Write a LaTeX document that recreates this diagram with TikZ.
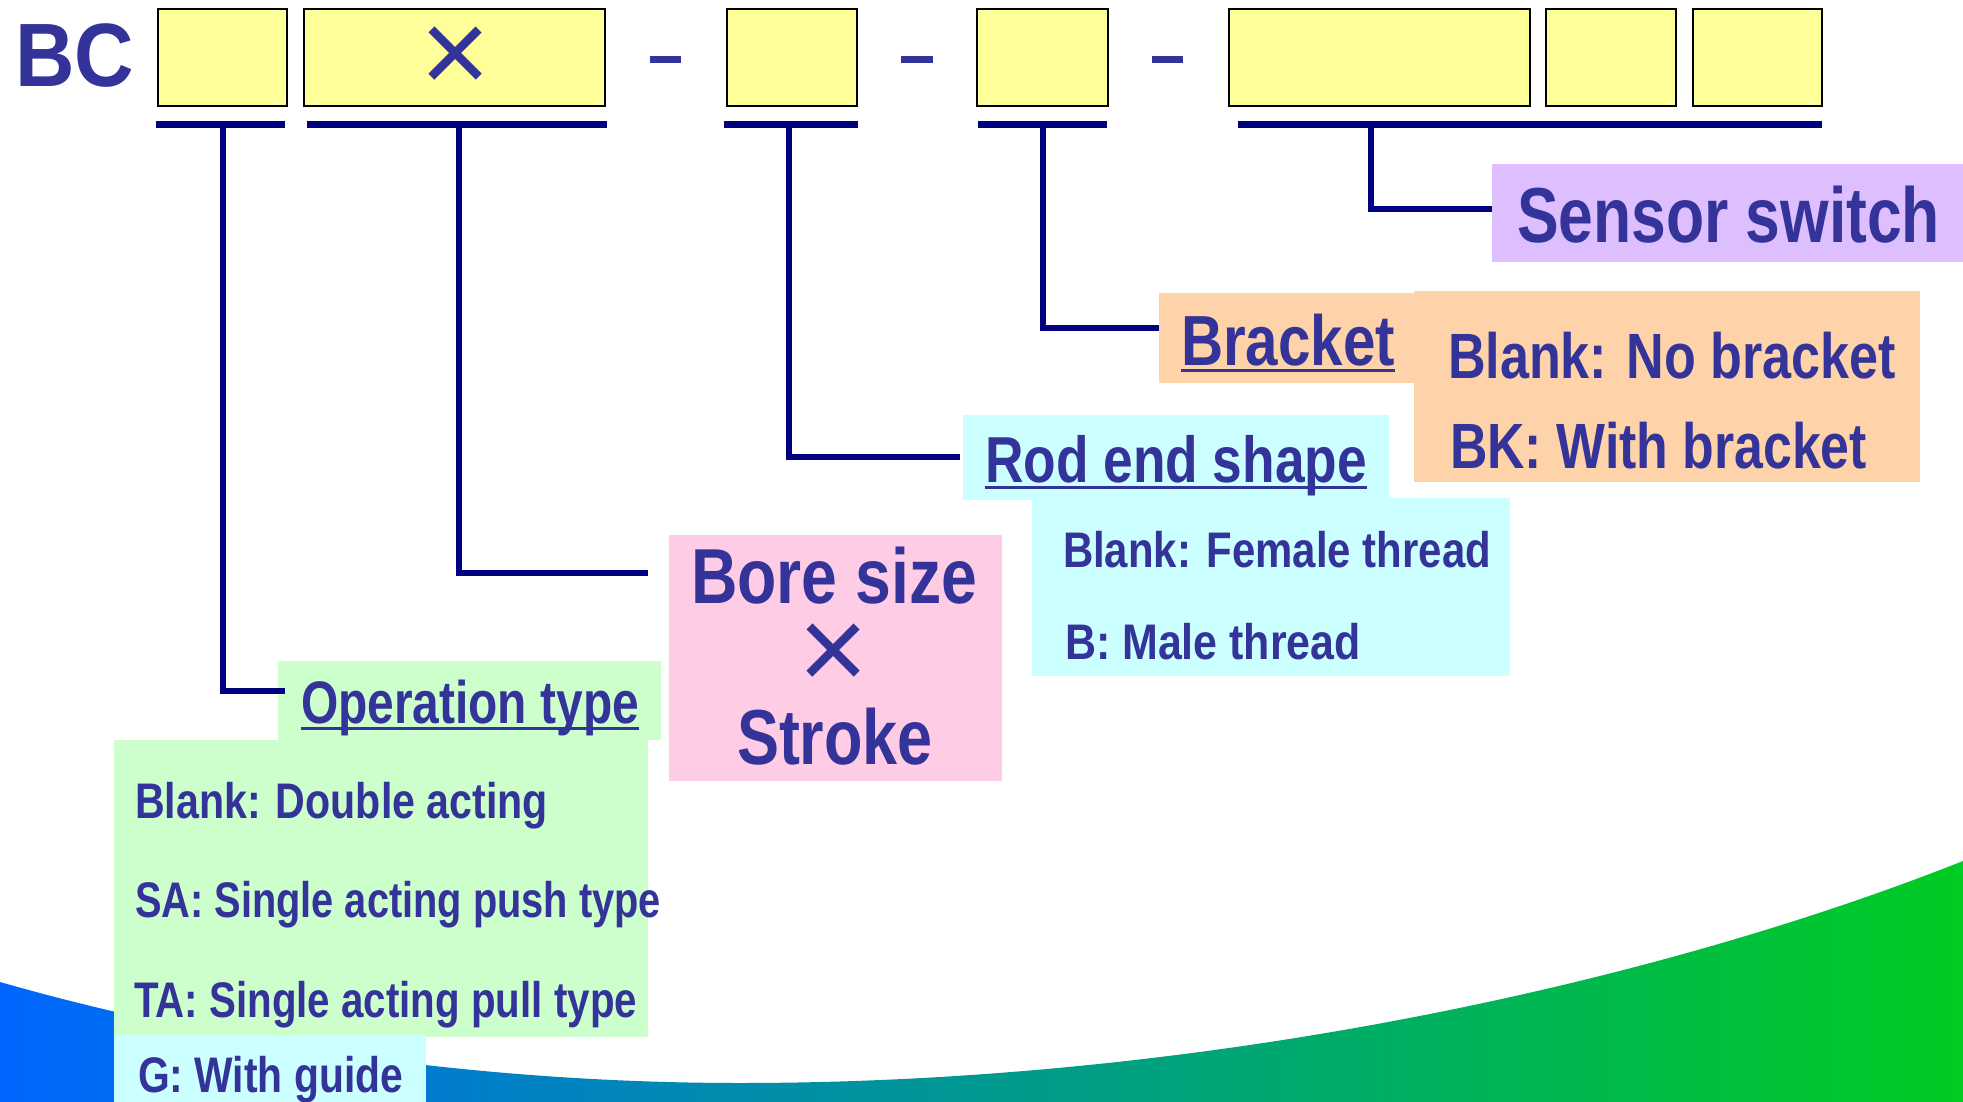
\documentclass[tikz,border=0pt]{standalone}
\usepackage{fontspec}
\usepackage{graphicx}
\setmainfont{Liberation Sans}
\definecolor{ink}{HTML}{333399}
\definecolor{leader}{HTML}{000080}
\definecolor{slot}{HTML}{FFFF99}
\definecolor{cgreen}{HTML}{CCFFCC}
\definecolor{ccyan}{HTML}{CCFFFF}
\definecolor{cpink}{HTML}{FFCCE6}
\definecolor{corange}{HTML}{FFD3A9}
\definecolor{cviolet}{HTML}{DDBEFF}
\definecolor{swL}{HTML}{0066FF}
\definecolor{swR}{HTML}{00CC22}
\newcommand{\ulin}[1]{\setbox0=\hbox{#1}\rlap{\rule[-7pt]{\wd0}{3pt}}\box0}
% \lbl{name}{x0}{x1}{baseline}{size}{text}
\newcommand{\lbl}[6]{\node[txt,anchor=base west] (#1) at (#2,#4) {\resizebox{\dimexpr#3pt-#2pt\relax}{\height}{\fontsize{#5}{#5}\selectfont\bfseries #6}};}
% \bx{name}{x0}{y0}{x1}{y1}{style}
\newcommand{\bx}[6]{\node[#6,anchor=north west,minimum width=\dimexpr#4pt-#2pt\relax,minimum height=\dimexpr#5pt-#3pt\relax] (#1) at (#2,#3) {};}
\tikzset{
  txt/.style={inner sep=0pt,outer sep=0pt,text=ink},
  panel/.style={inner sep=0pt,outer sep=0pt,draw=none,fill=#1},
  slotbox/.style={inner sep=0pt,outer sep=0pt,draw=black,line width=2pt,fill=slot},
  barline/.style={inner sep=0pt,outer sep=0pt,fill=leader},
  dashbar/.style={inner sep=0pt,outer sep=0pt,fill=ink},
  leaderline/.style={draw=leader,line width=6pt,line join=miter}
}
\begin{document}
\begin{tikzpicture}[x=1pt,y=-1pt]
\useasboundingbox (0,0) rectangle (1963,1102);
\fill[white] (0,0) rectangle (1963,1102);
% swoosh
\shade[left color=swL,right color=swR] (0,982) .. controls (220,1045) and (480,1083) .. (740,1083)
  .. controls (1200,1083) and (1650,985) .. (1963,861) -- (1963,1102) -- (0,1102) -- cycle;
% slots
\bx{s1}{158}{9}{287}{106}{slotbox}
\bx{s2}{304}{9}{605}{106}{slotbox}
\bx{s3}{727}{9}{857}{106}{slotbox}
\bx{s4}{977}{9}{1108}{106}{slotbox}
\bx{s5}{1229}{9}{1530}{106}{slotbox}
\bx{s6}{1546}{9}{1676}{106}{slotbox}
\bx{s7}{1693}{9}{1822}{106}{slotbox}
\lbl{bc}{15}{134}{87}{90}{BC}
\node[txt] (x1) at (456,60) {\resizebox{70pt}{!}{\fontfamily{lmr}\fontspec{Liberation Sans}×}};
% dashes
\bx{d1}{650}{56}{681}{63}{dashbar}
\bx{d2}{901}{56}{933}{63}{dashbar}
\bx{d3}{1152}{56}{1183}{63}{dashbar}
% bars
\bx{b1}{156}{121}{285}{128}{barline}
\bx{b2}{307}{121}{607}{128}{barline}
\bx{b3}{724}{121}{858}{128}{barline}
\bx{b4}{978}{121}{1107}{128}{barline}
\bx{b5}{1238}{121}{1822}{128}{barline}
% panels
\bx{pSensor}{1492}{164}{1963}{262}{panel=cviolet}
\bx{pBracket}{1159}{293}{1416}{383}{panel=corange}
\bx{pBracketD}{1414}{291}{1920}{482}{panel=corange}
\bx{pRod}{963}{415}{1389}{500}{panel=ccyan}
\bx{pRodD}{1032}{498}{1510}{676}{panel=ccyan}
\bx{pBore}{669}{535}{1002}{781}{panel=cpink}
\bx{pOp}{278}{661}{661}{740}{panel=cgreen}
\bx{pOpD}{114}{740}{648}{1037}{panel=cgreen}
\bx{pG}{114}{1035}{426}{1102}{panel=ccyan}
% leader start and end points
\coordinate (c1) at (223,128); \coordinate (e1) at (285,691);
\coordinate (c2) at (459,128); \coordinate (e2) at (648,573);
\coordinate (c3) at (789,128); \coordinate (e3) at (960,457);
\coordinate (c4) at (1043,128); \coordinate (e4) at (1159,328);
\coordinate (c5) at (1371,128); \coordinate (e5) at (1492,209);
\draw[leaderline] (c1) |- (e1);
\draw[leaderline] (c2) |- (e2);
\draw[leaderline] (c3) |- (e3);
\draw[leaderline] (c4) |- (e4);
\draw[leaderline] (c5) |- (e5);
% texts
\lbl{tSensor}{1517}{1940}{243}{78}{Sensor switch}
\lbl{tBracket}{1181}{1395}{365}{71}{\ulin{Bracket}}
\lbl{tB1}{1448}{1896}{378}{64}{Blank: No bracket}
\lbl{tB2}{1450}{1867}{468}{64}{BK: With bracket}
\lbl{tRod}{985}{1367}{482}{65}{\ulin{Rod end shape}}
\lbl{tR1}{1063}{1491}{567}{50}{Blank: Female thread}
\lbl{tR2}{1065}{1361}{659}{50}{B: Male thread}
\lbl{tBore}{691}{977}{603}{78}{Bore size}
\node[txt] (x2) at (834,657) {\resizebox{70pt}{!}{\fontspec{Liberation Sans}×}};
\lbl{tStroke}{737}{933}{764}{78}{Stroke}
\lbl{tOp}{301}{639}{723}{60}{\ulin{Operation type}}
\lbl{tO1}{135}{548}{818}{50}{Blank: Double acting}
\lbl{tO2}{135}{661}{917}{50}{SA: Single acting push type}
\lbl{tO3}{134}{637}{1017}{50}{TA: Single acting pull type}
\lbl{tG}{138}{403}{1092}{50}{G: With guide}
\end{tikzpicture}
\end{document}
